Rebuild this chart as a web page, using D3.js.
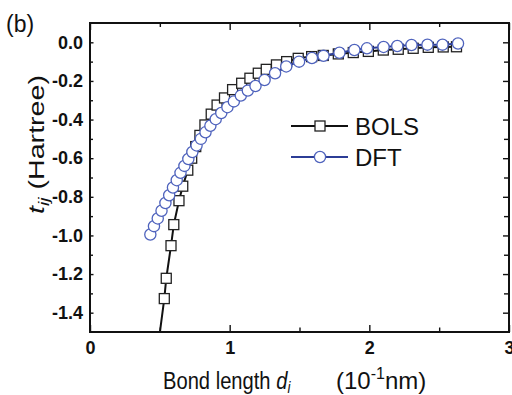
<!DOCTYPE html>
<html>
<head>
<meta charset="utf-8">
<script src="https://cdn.jsdelivr.net/npm/d3@7"></script>
<style>
  html, body { margin: 0; padding: 0; background: #fff; }
  svg { display: block; font-family: "Liberation Sans", Arial, sans-serif; }
</style>
</head>
<body>
<svg id="chart" width="512" height="395"></svg>
<script>
// Hopping integral t_ij versus bond length d_i
const bolsD = [0.532, 0.546, 0.580, 0.600, 0.637, 0.664, 0.700, 0.728, 0.757, 0.787,
               0.823, 0.868, 0.910, 0.963, 1.021, 1.086, 1.145, 1.205, 1.262, 1.335,
               1.408, 1.491, 1.587, 1.670, 1.778, 1.885, 1.993, 2.100, 2.207, 2.314,
               2.422, 2.529, 2.624];
const bolsT = [-1.327, -1.222, -1.053, -0.944, -0.820, -0.745, -0.662, -0.600, -0.540, -0.482,
               -0.428, -0.372, -0.325, -0.288, -0.245, -0.212, -0.186, -0.160, -0.140, -0.117,
               -0.100, -0.083, -0.074, -0.068, -0.060, -0.053, -0.047, -0.040, -0.036, -0.031,
               -0.026, -0.024, -0.023];
// the BOLS curve runs on below the last square, down past the axis
const bolsCurveStartD = [0.497];
const bolsCurveStartT = [-1.52];

const dftD = [0.432, 0.458, 0.485, 0.512, 0.540, 0.567, 0.594, 0.621, 0.648, 0.676,
              0.704, 0.733, 0.763, 0.794, 0.827, 0.862, 0.900, 0.940, 0.984, 1.030,
              1.080, 1.130, 1.185, 1.250, 1.325, 1.405, 1.497, 1.589, 1.672, 1.786,
              1.893, 1.983, 2.102, 2.200, 2.302, 2.416, 2.524, 2.635];
const dftT = [-0.995, -0.952, -0.912, -0.872, -0.832, -0.792, -0.752, -0.714, -0.676, -0.640,
              -0.604, -0.568, -0.534, -0.500, -0.466, -0.432, -0.398, -0.366, -0.336, -0.306,
              -0.276, -0.250, -0.226, -0.195, -0.160, -0.125, -0.100, -0.081, -0.070, -0.054,
              -0.040, -0.031, -0.024, -0.019, -0.014, -0.012, -0.012, -0.006];

const xMajor = [0, 1, 2, 3];
const xMinor = [0.5, 1.5, 2.5];
const yMajor = [0.0, -0.2, -0.4, -0.6, -0.8, -1.0, -1.2, -1.4];
const yMinor = [-0.1, -0.3, -0.5, -0.7, -0.9, -1.1, -1.3];
const seriesNames = ["BOLS", "DFT"];

const svg = d3.select("#chart");
const plot = { left: 90, right: 509, top: 23, bottom: 332 };

const x = d3.scaleLinear().domain([0, 3]).range([plot.left, plot.right]);
const y = d3.scaleLinear().domain([-1.5, 0.1]).range([plot.bottom, plot.top]);

const bols = bolsD.map((d, i) => ({ d, t: bolsT[i] }));
const dft = dftD.map((d, i) => ({ d, t: dftT[i] }));
const bolsCurve = bolsCurveStartD.map((d, i) => ({ d, t: bolsCurveStartT[i] })).concat(bols);

svg.append("defs").append("clipPath").attr("id", "plot-clip")
  .append("rect")
  .attr("x", plot.left).attr("y", plot.top)
  .attr("width", plot.right - plot.left).attr("height", plot.bottom - plot.top);

const BLACK = "#111";
const BLUE_LINE = "#2c3d96";
const BLUE_MARK = "#4f63bd";

// tick marks, drawn inward on every side
function tickAxis(axisGen, transform, values, size) {
  svg.append("g").attr("transform", transform)
    .call(axisGen.tickValues(values).tickSize(size).tickFormat(""))
    .call(g => g.select(".domain").remove())
    .call(g => g.selectAll("line").attr("stroke", BLACK).attr("stroke-width", 1.4));
}
tickAxis(d3.axisTop(x), `translate(0,${plot.bottom})`, xMajor, 7);
tickAxis(d3.axisTop(x), `translate(0,${plot.bottom})`, xMinor, 4.5);
tickAxis(d3.axisBottom(x), `translate(0,${plot.top})`, xMajor, 7);
tickAxis(d3.axisBottom(x), `translate(0,${plot.top})`, xMinor, 4);
tickAxis(d3.axisRight(y), `translate(${plot.left},0)`, yMajor, 3.5);
tickAxis(d3.axisRight(y), `translate(${plot.left},0)`, yMinor, 3);
tickAxis(d3.axisLeft(y), `translate(${plot.right},0)`, yMajor, 6);
tickAxis(d3.axisLeft(y), `translate(${plot.right},0)`, yMinor, 5);

// tick labels
const xLab = svg.append("g").attr("transform", `translate(0,${plot.bottom})`)
  .call(d3.axisBottom(x).tickValues(xMajor).tickSize(0).tickPadding(9).tickFormat(d3.format("d")));
xLab.select(".domain").remove();
xLab.selectAll("text").attr("font-family", "Liberation Sans, Arial, sans-serif")
  .attr("font-size", 18).attr("font-weight", "bold").attr("fill", BLACK);

const yLab = svg.append("g").attr("transform", `translate(${plot.left},0)`)
  .call(d3.axisLeft(y).tickValues(yMajor).tickSize(0).tickPadding(7)
    .tickFormat(v => d3.format(".1f")(v).replace("−", "-")));
yLab.select(".domain").remove();
yLab.selectAll("text").attr("font-family", "Liberation Sans, Arial, sans-serif")
  .attr("font-size", 18).attr("font-weight", "bold").attr("fill", BLACK);

// frame
svg.append("rect")
  .attr("x", plot.left).attr("y", plot.top)
  .attr("width", plot.right - plot.left).attr("height", plot.bottom - plot.top)
  .attr("fill", "none").attr("stroke", BLACK).attr("stroke-width", 2);

const line = d3.line().x(p => x(p.d)).y(p => y(p.t));
const data = svg.append("g").attr("clip-path", "url(#plot-clip)");

// BOLS: line with open squares
data.append("path").datum(bolsCurve)
  .attr("d", line).attr("fill", "none").attr("stroke", BLACK).attr("stroke-width", 2);
const SQ = 10;
data.selectAll("rect.bols").data(bols).join("rect").attr("class", "bols")
  .attr("x", p => x(p.d) - SQ / 2).attr("y", p => y(p.t) - SQ / 2)
  .attr("width", SQ).attr("height", SQ)
  .attr("fill", "#fff").attr("stroke", "#222").attr("stroke-width", 1.3);

// DFT: line with open circles
data.append("path").datum(dft)
  .attr("d", line).attr("fill", "none").attr("stroke", BLUE_LINE).attr("stroke-width", 2);
data.selectAll("circle.dft").data(dft).join("circle").attr("class", "dft")
  .attr("cx", p => x(p.d)).attr("cy", p => y(p.t)).attr("r", 5.6)
  .attr("fill", "#fff").attr("stroke", BLUE_MARK).attr("stroke-width", 1.3);

// legend
const legend = svg.append("g");
const legendRows = [
  { name: seriesNames[0], y: 126, line: BLACK, mark: "square" },
  { name: seriesNames[1], y: 157, line: BLUE_LINE, mark: "circle" }
];
legendRows.forEach(r => {
  legend.append("line").attr("x1", 291).attr("x2", 348).attr("y1", r.y).attr("y2", r.y)
    .attr("stroke", r.line).attr("stroke-width", 2);
  if (r.mark === "square") {
    legend.append("rect").attr("x", 320 - SQ / 2).attr("y", r.y - SQ / 2)
      .attr("width", SQ).attr("height", SQ)
      .attr("fill", "#fff").attr("stroke", "#222").attr("stroke-width", 1.3);
  } else {
    legend.append("circle").attr("cx", 320).attr("cy", r.y).attr("r", 5.6)
      .attr("fill", "#fff").attr("stroke", BLUE_MARK).attr("stroke-width", 1.3);
  }
  legend.append("text").attr("x", 355).attr("y", r.y + 8.5)
    .attr("font-size", 24).attr("fill", BLACK).text(r.name);
});

// panel tag
svg.append("text").attr("x", 6).attr("y", 32).attr("font-size", 23).attr("fill", BLACK).text("(b)");

// x-axis title: quantity part in a tall, slightly condensed face, unit part after a wide gap
const xt = svg.append("text")
  .attr("transform", "translate(163,389) scale(0.84,1)")
  .attr("font-size", 24).attr("fill", BLACK);
xt.append("tspan").text("Bond length ");
xt.append("tspan").attr("font-style", "italic").text("d");
xt.append("tspan").attr("font-style", "italic").attr("font-size", 16).attr("dy", 4).text("i");

const xu = svg.append("text").attr("x", 336).attr("y", 389)
  .attr("font-size", 24).attr("fill", BLACK);
xu.append("tspan").text("(10");
xu.append("tspan").attr("font-size", 16).attr("dy", -10).text("-1");
xu.append("tspan").attr("dy", 10).text("nm)");

// y-axis title, stretched along its reading direction
const yt = svg.append("text").attr("transform", "translate(44,214) rotate(-90) scale(1.3,1)")
  .attr("font-size", 22).attr("fill", BLACK);
yt.append("tspan").attr("font-style", "italic").text("t");
yt.append("tspan").attr("font-style", "italic").attr("font-size", 15).attr("dy", 5).text("ij");
yt.append("tspan").attr("dy", -5).text(" (Hartree)");
</script>
</body>
</html>
